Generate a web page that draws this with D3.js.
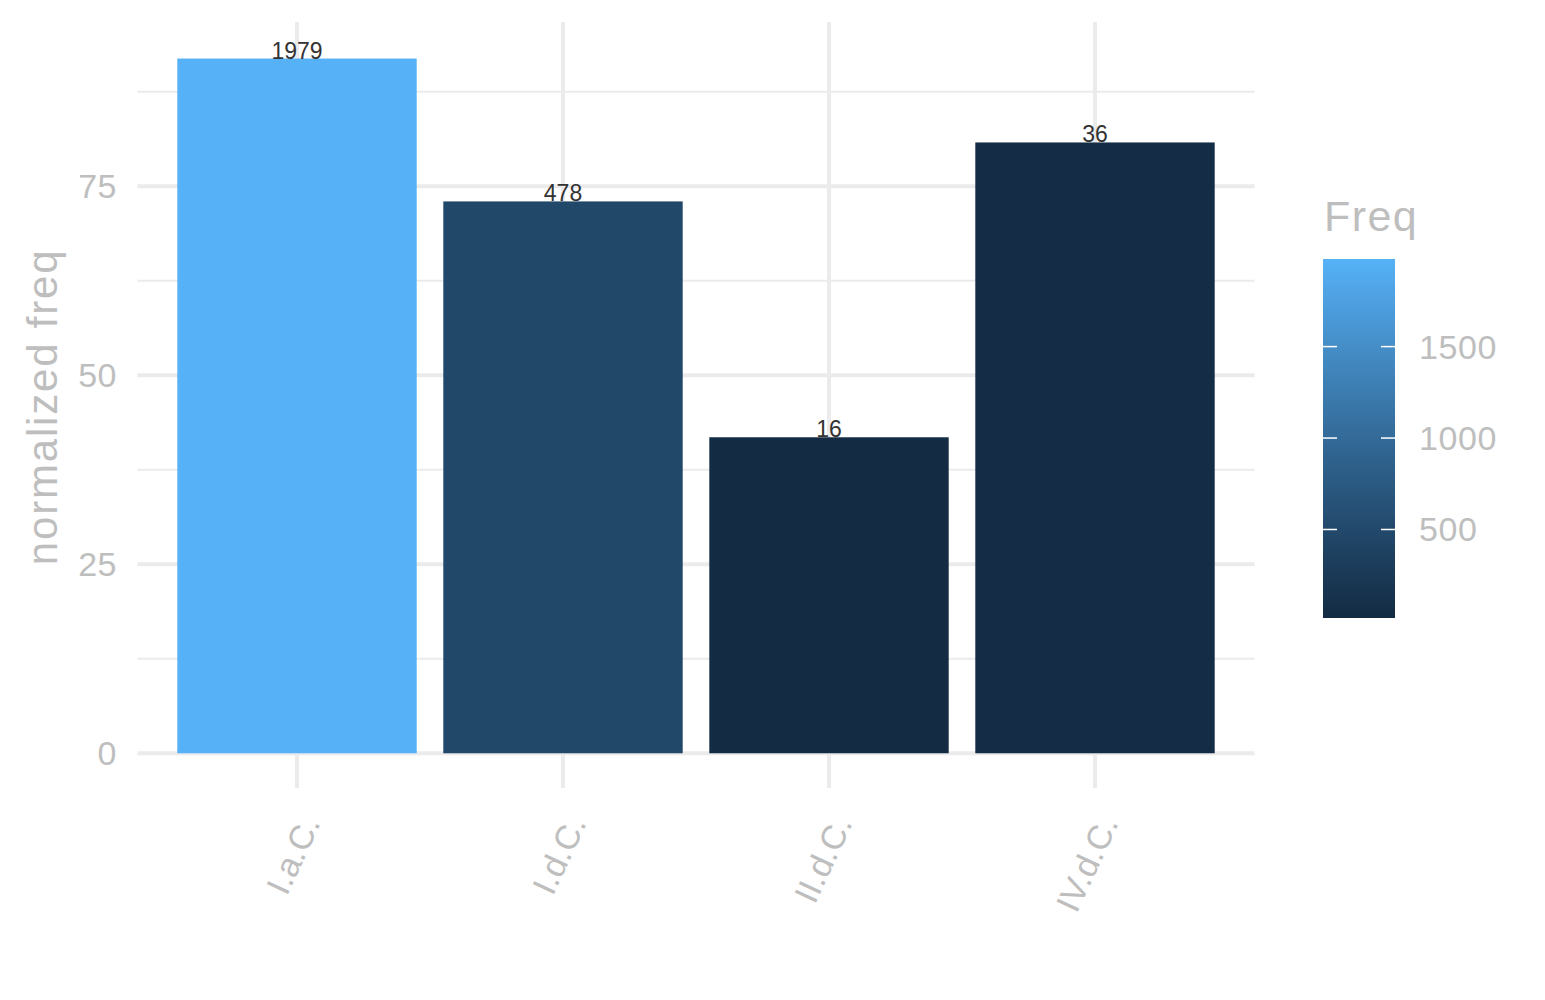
<!DOCTYPE html>
<html>
<head>
<meta charset="utf-8">
<script src="https://cdn.jsdelivr.net/npm/d3@7"></script>
<style>
  body { margin: 0; background: #fff; }
  text { font-family: "Liberation Sans", Arial, sans-serif; }
</style>
</head>
<body>
<svg id="chart" width="1545" height="1000"></svg>
<script>
// data
const categories = ['I.a.C.', 'I.d.C.', 'II.d.C.', 'IV.d.C.'];
const normFreq = [91.9, 73.0, 41.8, 80.8];
const freq = [1979, 478, 16, 36];
const yTicks = [0, 25, 50, 75];
const yMinor = [12.5, 37.5, 62.5, 87.5];
const legendTicks = [500, 1000, 1500];

const width = 1545, height = 1000;
const panel = { left: 137.4, right: 1254.6, top: 23.8, bottom: 788 };
const grey = '#bebebe', gridCol = '#ebebeb';

const svg = d3.select('#chart');

const yMax = d3.max(normFreq);
const x = d3.scaleBand().domain(categories)
  .range([panel.left, panel.right])
  .paddingInner(0.1).paddingOuter(0.15);
const y = d3.scaleLinear().domain([-0.05 * yMax, 1.05 * yMax])
  .range([panel.bottom, panel.top]);

const color = d3.scaleLinear().domain(d3.extent(freq))
  .range(['#132B43', '#56B1F7'])
  .interpolate(d3.interpolateLab);

// grid
const grid = svg.append('g');
grid.selectAll('.minor').data(yMinor).enter().append('line')
  .attr('x1', panel.left).attr('x2', panel.right)
  .attr('y1', d => y(d)).attr('y2', d => y(d))
  .style('stroke', gridCol).style('stroke-width', 2);
grid.selectAll('.major').data(yTicks).enter().append('line')
  .attr('x1', panel.left).attr('x2', panel.right)
  .attr('y1', d => y(d)).attr('y2', d => y(d))
  .style('stroke', gridCol).style('stroke-width', 4);
grid.selectAll('.vmajor').data(categories).enter().append('line')
  .attr('x1', d => x(d) + x.bandwidth() / 2).attr('x2', d => x(d) + x.bandwidth() / 2)
  .attr('y1', 22).attr('y2', panel.bottom)
  .style('stroke', gridCol).style('stroke-width', 4);

// bars
svg.append('g').selectAll('rect').data(categories).enter().append('rect')
  .attr('x', d => x(d))
  .attr('width', x.bandwidth())
  .attr('y', (d, i) => y(normFreq[i]))
  .attr('height', (d, i) => y(0) - y(normFreq[i]))
  .style('fill', (d, i) => color(freq[i]));

// bar labels
svg.append('g').selectAll('text').data(categories).enter().append('text')
  .attr('x', d => x(d) + x.bandwidth() / 2)
  .attr('y', (d, i) => y(normFreq[i]))
  .attr('text-anchor', 'middle')
  .style('font-size', '23px').style('fill', '#333')
  .text((d, i) => freq[i]);

// y tick labels
svg.append('g').selectAll('text').data(yTicks).enter().append('text')
  .attr('x', 117).attr('y', d => y(d))
  .attr('dy', '0.35em')
  .attr('text-anchor', 'end')
  .style('font-size', '34px').style('letter-spacing', '0.5px').style('fill', grey)
  .text(d => d);

// x tick labels
svg.append('g').selectAll('text').data(categories).enter().append('text')
  .attr('transform', d => `translate(${x(d) + x.bandwidth() / 2 + 24},823) rotate(-65)`)
  .attr('text-anchor', 'end')
  .style('font-size', '34px').style('fill', grey)
  .text(d => d);

// y title
svg.append('text')
  .attr('transform', `translate(57,${(panel.top + panel.bottom) / 2 + 1}) rotate(-90)`)
  .attr('text-anchor', 'middle')
  .style('font-size', '42px').style('letter-spacing', '1.8px').style('fill', grey)
  .text('normalized freq');

// legend
const leg = { x: 1323, w: 72, top: 259, bottom: 618 };
const ly = d3.scaleLinear().domain(d3.extent(freq)).range([leg.bottom, leg.top]);

const grad = svg.append('defs').append('linearGradient')
  .attr('id', 'freqGrad').attr('x1', 0).attr('x2', 0).attr('y1', 1).attr('y2', 0);
d3.range(0, 1.0001, 0.05).forEach(t => {
  grad.append('stop').attr('offset', t)
    .attr('stop-color', color(ly.domain()[0] + t * (ly.domain()[1] - ly.domain()[0])));
});

svg.append('text')
  .attr('x', 1324).attr('y', 231)
  .style('font-size', '43px').style('letter-spacing', '1.4px').style('fill', grey)
  .text('Freq');

svg.append('rect')
  .attr('x', leg.x).attr('y', leg.top)
  .attr('width', leg.w).attr('height', leg.bottom - leg.top)
  .style('fill', 'url(#freqGrad)');

const lt = svg.append('g');
lt.selectAll('.tl').data(legendTicks).enter().append('line')
  .attr('x1', leg.x).attr('x2', leg.x + 14)
  .attr('y1', d => ly(d)).attr('y2', d => ly(d))
  .style('stroke', '#fff').style('stroke-width', 1.5);
lt.selectAll('.tr').data(legendTicks).enter().append('line')
  .attr('x1', leg.x + leg.w - 14).attr('x2', leg.x + leg.w)
  .attr('y1', d => ly(d)).attr('y2', d => ly(d))
  .style('stroke', '#fff').style('stroke-width', 1.5);
lt.selectAll('text').data(legendTicks).enter().append('text')
  .attr('x', 1419).attr('y', d => ly(d))
  .attr('dy', '0.35em')
  .style('font-size', '34px').style('letter-spacing', '0.6px').style('fill', grey)
  .text(d => d);
</script>
</body>
</html>
